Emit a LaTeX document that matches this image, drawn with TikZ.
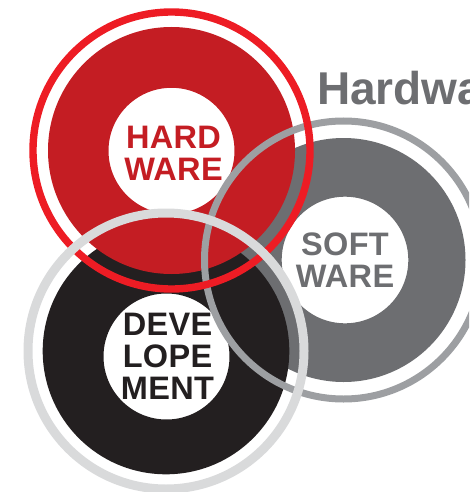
\documentclass[tikz,border=0pt]{standalone}
\usepackage{fontspec}
\setmainfont{Liberation Sans}
\newfontfamily\lblfont[LetterSpace=1]{Liberation Sans}
\definecolor{hwdisk}{HTML}{C41D23}
\definecolor{hwring}{HTML}{ED1C24}
\definecolor{swdisk}{HTML}{6D6E71}
\definecolor{swring}{HTML}{9D9FA2}
\definecolor{dvdisk}{HTML}{231F20}
\definecolor{dvring}{HTML}{D9DADB}
\begin{document}
\begin{tikzpicture}[x=1pt,y=-1pt,
  lbl/.style={font=\lblfont\fontsize{32.5}{32}\selectfont\bfseries, align=center, inner sep=0pt},
  disk/.style={even odd rule}]
\useasboundingbox (0,0) rectangle (469,492);
\clip (0,0) rectangle (469,492);
\coordinate (hw) at (171.5,150.5);
\coordinate (hwh) at (171.5,150.8);
\coordinate (sw) at (343.5,260);
\coordinate (swh) at (345,260);
\coordinate (dv) at (166,351);
\coordinate (dvh) at (166.5,356.5);
% disks with holes
\fill[swdisk, disk] (sw) circle[radius=122] (swh) circle[radius=63.3];
\fill[dvdisk, disk] (dv) circle[radius=123.3] (dvh) circle[radius=63];
\fill[hwdisk, disk] (hw) circle[radius=123.5] (hwh) circle[radius=63];
% outer rings
\draw[swring, line width=7] (sw) circle[radius=139];
\draw[hwring, line width=7.4] (hw) circle[radius=138.5];
\draw[dvring, line width=9] (dv) circle[radius=138];
% labels
\node[lbl, text=hwdisk] (hwl) at (173.5,153) {HARD\\WARE};
\node[lbl, text=swdisk] (swl) at (345,260) {SOFT\\WARE};
\node[lbl, text=dvdisk] (dvl) at (167.5,356.5) {DEVE\\LOPE\\MENT};
\node[font=\fontsize{46}{50}\selectfont\bfseries, text=swdisk, anchor=base west, inner sep=0pt] (title) at (317,105) {Hardwa};
\end{tikzpicture}
\end{document}
